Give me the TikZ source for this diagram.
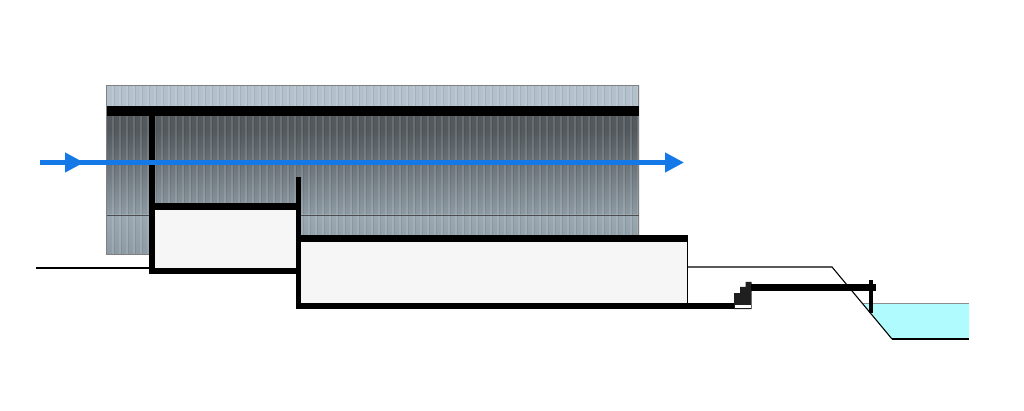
\documentclass[tikz,border=0pt]{standalone}
\usetikzlibrary{arrows.meta}
\definecolor{panelTop}{HTML}{B2C1CB}
\definecolor{panelDark}{HTML}{53595D}
\definecolor{panelMid}{HTML}{8E9BA4}
\definecolor{panelLow}{HTML}{9AA8B2}
\definecolor{roomFill}{HTML}{F6F6F6}
\definecolor{waterFill}{HTML}{AFFBFD}
\definecolor{flow}{HTML}{1479E6}
\tikzset{
  solid black/.style={fill=black,draw=none},
  thin line/.style={draw=black,line width=1.1pt},
  flow line/.style={draw=flow,line width=4.3pt,-{Triangle[length=19pt,width=19pt,color=flow]}},
}
\begin{document}
\begin{tikzpicture}[x=1pt,y=-1pt]
\useasboundingbox (0,0) rectangle (1024,411);
\fill[white] (0,0) rectangle (1024,411);
% facade
\fill[panelTop] (106.5,85) rectangle (638.5,106);
\shade[top color=panelDark,bottom color=panelDark] (106.5,116) rectangle (638.5,130);
\shade[top color=panelDark,bottom color=panelMid] (106.5,130) rectangle (638.5,215);
\shade[top color=panelLow,bottom color=panelMid] (106.5,215) rectangle (638.5,254);
% cladding ribs
\foreach \i in {0,...,75}{
  \pgfmathsetmacro{\xx}{113+7*\i}
  \draw[white,opacity=0.12,line width=1.2pt] (\xx,85) -- (\xx,254);
  \draw[black,opacity=0.08,line width=0.7pt] (\xx+1.3,85) -- (\xx+1.3,254);
}
\draw[draw=black!50,line width=0.7pt] (106.5,85) rectangle (638.5,254);
\draw[draw=black!70,line width=0.7pt] (106.5,215) -- (638.5,215);
% rooms
\fill[roomFill] (155,210) rectangle (296,268);
\fill[roomFill] (301,242) rectangle (687,303);
% water
\fill[waterFill] (862,303) -- (969,303) -- (969,339) -- (892,339) -- cycle;
\draw[draw=black!45,line width=0.7pt] (862,303) -- (969,303);
% thin lines
\draw[thin line] (36,268) -- (150,268);
\draw[thin line,line width=0.8pt] (687,242) -- (687,303);
\draw[thin line] (687,267) -- (832,267) -- (892,339);
\draw[draw=black,line width=1.8pt] (892,339) -- (969,339);
% structure
\fill[solid black] (106.5,106) rectangle (638.5,116);
\fill[solid black] (149,116) rectangle (155,274);
\fill[solid black] (149,268) rectangle (301,274);
\fill[solid black] (155,203) rectangle (297,210);
\fill[solid black] (295.5,177) rectangle (301,309);
\fill[solid black] (296,235) rectangle (688,242);
\fill[solid black] (296,303) rectangle (735,309);
% steps and jetty
\fill[black!88] (734,309) -- (734,293) -- (740,293) -- (740,287) -- (745.5,287) -- (745.5,282) -- (751.5,282) -- (751.5,309) -- cycle;
\fill[white] (735,305) rectangle (750.7,307.8);
\fill[solid black] (751,284) rectangle (876,291);
\fill[solid black] (869.3,280) rectangle (873.3,313);
% flow arrow
\coordinate (flowStart) at (40,162.5);
\coordinate (flowMid) at (84,162.5);
\coordinate (flowEnd) at (684,162.5);
\draw[flow line] (flowStart) -- (flowEnd);
\draw[flow line] (flowStart) -- (flowMid);
\end{tikzpicture}
\end{document}
